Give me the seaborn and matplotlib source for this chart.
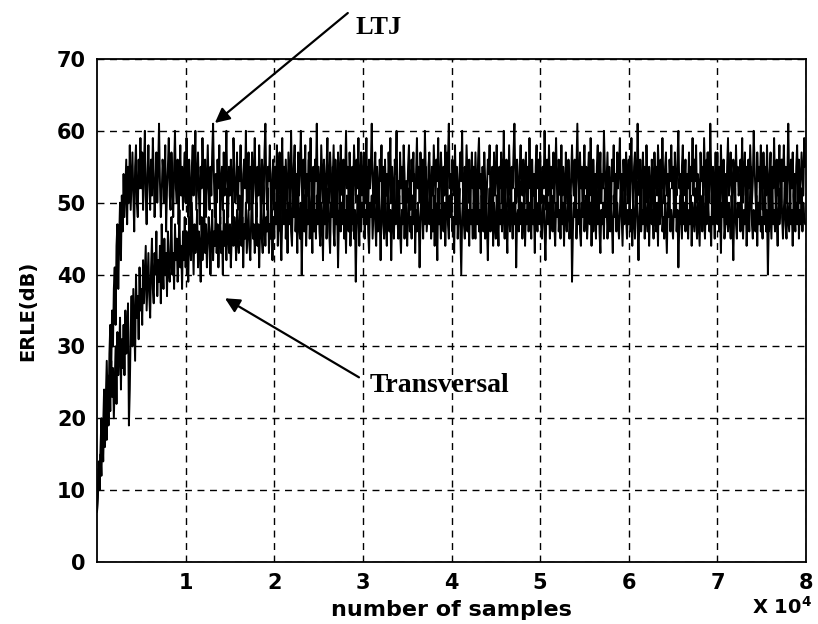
import numpy as np
import pandas as pd
import matplotlib
matplotlib.use("Agg")
import matplotlib.pyplot as plt
import seaborn as sns

# ---------------- data ----------------
sample_step = 100  # samples between plotted points

ltj_erle = [
    7, 10, 14, 11, 16, 20, 15, 19, 24, 18, 23, 28, 22, 20, 29, 33, 26, 35, 30, 38,
    41, 33, 44, 47, 38, 45, 50, 42, 51, 46, 54, 48, 52, 56, 47, 55, 50, 58, 49, 53,
    57, 51, 46, 55, 58, 50, 48, 56, 52, 59,
    52, 57, 49, 55, 60, 51, 47, 54, 58, 53, 49, 56, 51, 59, 54, 48, 52, 57, 50, 55, 61, 53, 48, 51, 56,
    54, 50, 58, 46, 52, 55, 59, 51, 49, 57, 53, 48, 55, 60, 52, 50, 56, 47, 53, 58, 51, 55, 49, 54, 57,
    50, 59, 53, 48, 56, 52, 46, 55, 58, 51, 54, 60, 49, 53, 57, 51, 47, 55, 52, 59, 54, 50, 56, 48, 53,
    58, 52, 49, 55, 51, 57, 61, 53, 48, 54, 50, 56, 52, 58, 47, 53, 55, 49, 57, 51, 54, 60, 52, 48, 55,
    51, 56, 53, 47, 59, 54, 50, 52, 57, 49, 55, 53, 58, 51, 46, 54, 56, 52, 60, 50, 53, 57, 49, 55, 52,
    57, 50, 54, 59, 52, 48, 55, 51, 58, 53, 47, 56, 54, 50, 57, 61, 52, 49, 55, 53, 58, 51, 47, 54, 56,
    49, 55, 52, 58, 50, 54, 57, 46, 53, 59, 51, 55, 49, 56, 52, 48, 57, 54, 51, 60, 53, 50, 55, 58, 52,
    54, 48, 57, 51, 55, 60, 53, 49, 56, 52, 58, 47, 54, 51, 57, 53, 59, 50, 52, 55, 48, 56, 53, 61, 51,
    55, 52, 49, 58, 54, 50, 56, 53, 47, 55, 59, 52, 50, 57, 54, 48, 53, 58, 51, 56, 52, 49, 57, 54, 50,
    58, 53, 51, 56, 48, 54, 60, 52, 55, 49, 57, 53, 46, 55, 51, 58, 54, 50, 56, 52, 59, 48, 53, 57, 51,
    53, 57, 50, 54, 59, 51, 48, 56, 52, 55, 61, 53, 49, 54, 57, 50, 55, 52, 47, 56, 53, 58, 51, 55, 49,
    56, 51, 54, 48, 57, 53, 59, 50, 55, 52, 47, 56, 54, 60, 51, 53, 49, 57, 52, 55, 50, 58, 54, 48, 53,
    50, 55, 58, 52, 49, 56, 53, 57, 51, 46, 54, 59, 52, 55, 50, 57, 53, 48, 56, 51, 60, 54, 52, 49, 55,
    57, 52, 48, 55, 51, 58, 54, 50, 56, 53, 59, 49, 52, 57, 54, 47, 55, 51, 58, 53, 50, 56, 61, 52, 54,
    49, 56, 53, 51, 58, 50, 55, 52, 47, 54, 57, 53, 60, 51, 49, 55, 52, 58, 54, 50, 56, 48, 53, 57, 52,
    55, 50, 57, 53, 49, 56, 59, 52, 54, 48, 55, 51, 57, 53, 46, 52, 56, 54, 58, 50, 53, 55, 49, 57, 51,
    54, 58, 51, 47, 55, 52, 57, 50, 53, 60, 52, 49, 56, 54, 51, 58, 53, 48, 55, 52, 57, 61, 53, 50, 56,
    52, 49, 55, 58, 53, 51, 56, 48, 54, 57, 50, 55, 52, 59, 53, 49, 56, 51, 54, 47, 55, 58, 52, 56, 50,
    57, 53, 50, 55, 52, 60, 54, 49, 56, 51, 58, 53, 48, 55, 52, 57, 50, 54, 59, 52, 49, 56, 53, 51, 58,
    51, 55, 53, 48, 57, 54, 50, 56, 52, 46, 54, 58, 53, 51, 56, 49, 55, 61, 53, 50, 57, 52, 55, 48, 54,
    58, 52, 55, 50, 54, 57, 51, 59, 53, 49, 56, 52, 54, 47, 55, 58, 51, 53, 57, 50, 54, 52, 60, 55, 49,
    53, 57, 50, 55, 52, 48, 56, 53, 58, 51, 54, 49, 57, 52, 55, 59, 50, 54, 48, 56, 53, 51, 57, 54, 50,
    56, 51, 54, 59, 52, 49, 55, 57, 50, 53, 61, 54, 51, 56, 48, 53, 57, 52, 55, 50, 58, 53, 47, 55, 52,
    50, 56, 53, 48, 57, 52, 55, 51, 58, 54, 49, 56, 52, 59, 53, 50, 55, 57, 51, 54, 48, 56, 53, 58, 52,
    55, 49, 57, 53, 51, 56, 60, 52, 54, 47, 55, 58, 51, 53, 56, 50, 54, 52, 57, 49, 55, 53, 59, 51, 56,
    53, 58, 50, 54, 52, 48, 57, 53, 55, 51, 59, 54, 49, 56, 52, 57, 50, 61, 54, 51, 55, 48, 53, 57, 52,
    57, 51, 55, 49, 58, 53, 50, 56, 52, 54, 47, 55, 59, 51, 53, 57, 52, 48, 56, 54, 50, 58, 53, 55, 51,
    52, 56, 53, 59, 50, 54, 57, 51, 55, 49, 56, 52, 58, 54, 50, 53, 60, 55, 51, 48, 57, 53, 55, 52, 58,
    54, 49, 57, 52, 55, 51, 58, 53, 46, 54, 57, 50, 55, 52, 59, 53, 49, 56, 51, 54, 58, 52, 50, 56, 53,
    58, 52, 55, 50, 54, 61, 53, 49, 56, 52, 57, 51, 54, 48, 55, 58, 52, 56, 50, 53, 57, 54, 51, 59, 55,
]

transversal_erle = [
    7, 9, 13, 10, 15, 12, 18, 14, 20, 16,
    22, 17, 24, 19, 26, 21, 28, 23, 27, 20,
    25, 30, 22, 32, 26, 29, 34, 24, 31, 27,
    33, 26, 35, 29, 31, 36, 19, 24, 32, 37,
    30, 38, 33, 28, 40, 34, 37, 31, 41, 35,
    38, 33, 42, 36, 40, 44, 35, 39, 43, 37,
    34, 41, 45, 38, 36, 43, 40, 46, 37, 42,
    39, 44, 36, 47, 41, 38, 45, 40, 43, 37,
    46, 41, 39, 44, 48, 40, 43, 38, 47, 42,
    45, 39, 43, 49, 41, 44, 38, 46, 42, 48,
    41, 46, 43, 39, 48, 44, 42, 50, 45, 40,
    47, 43, 45, 49, 41, 46, 44, 39, 48, 42,
    45, 50, 43, 47, 41, 44, 48, 46, 40, 45,
    49, 42, 46, 44, 51, 43, 47, 41, 45, 48,
    43, 46, 40, 49, 44, 47, 42, 52, 45, 43,
    47, 41, 45, 50, 44, 48, 46, 42, 49, 45,
    43, 51, 46, 44, 48, 41, 47, 45, 50, 43,
    46, 49, 44, 42, 48, 53, 45, 47, 43, 46,
    50, 44, 47, 41, 46, 49, 45, 43, 51, 47,
    44, 48, 46, 52, 43, 47, 45, 49, 42, 48,
    45, 50, 47, 53, 44, 49, 51, 46, 42, 48, 52, 47, 55, 45, 49, 43, 50, 47, 53, 46, 44, 51, 48, 54, 46,
    49, 43, 52, 47, 45, 50, 40, 48, 53, 46, 51, 44, 49, 47, 56, 45, 50, 48, 43, 52, 46, 49, 45, 51, 47,
    53, 46, 44, 50, 48, 42, 51, 47, 54, 45, 49, 52, 46, 43, 50, 48, 55, 46, 44, 51, 47, 49, 41, 48, 52,
    46, 50, 47, 54, 45, 49, 43, 51, 48, 46, 53, 44, 50, 47, 52, 45, 49, 39, 47, 51, 48, 44, 53, 46, 50,
    48, 52, 45, 49, 47, 55, 46, 43, 50, 48, 51, 45, 49, 53, 47, 44, 50, 46, 52, 48, 42, 49, 54, 47, 45,
    51, 47, 44, 50, 53, 46, 49, 42, 48, 52, 45, 50, 47, 56, 48, 45, 51, 46, 43, 49, 47, 53, 45, 50, 48,
    44, 49, 52, 46, 48, 45, 51, 47, 54, 43, 49, 46, 50, 48, 41, 47, 52, 49, 45, 51, 47, 55, 46, 48, 50,
    47, 53, 45, 49, 46, 51, 44, 50, 48, 42, 52, 47, 49, 45, 53, 48, 46, 50, 44, 49, 57, 47, 45, 51, 48,
    50, 46, 48, 43, 51, 47, 54, 45, 49, 52, 46, 40, 48, 51, 47, 45, 50, 53, 46, 49, 44, 52, 47, 49, 45,
    52, 48, 45, 50, 47, 55, 46, 49, 43, 51, 48, 46, 53, 45, 50, 47, 42, 49, 52, 46, 48, 51, 44, 50, 47,
    45, 51, 48, 44, 52, 47, 49, 46, 56, 48, 45, 50, 47, 43, 51, 49, 46, 53, 48, 45, 50, 47, 52, 41, 48,
    49, 46, 53, 47, 50, 45, 48, 52, 44, 49, 47, 54, 46, 50, 48, 45, 51, 47, 49, 43, 52, 48, 46, 50, 47,
    53, 47, 45, 49, 51, 46, 42, 48, 52, 47, 50, 45, 55, 48, 46, 51, 47, 44, 50, 48, 53, 46, 49, 45, 51,
    47, 50, 44, 52, 48, 46, 49, 53, 45, 47, 51, 39, 46, 50, 48, 52, 45, 49, 47, 54, 46, 44, 50, 48, 52,
    46, 49, 51, 45, 48, 55, 47, 50, 44, 49, 46, 52, 48, 45, 51, 47, 53, 46, 43, 49, 47, 50, 45, 52, 48,
    50, 45, 48, 52, 46, 49, 47, 43, 51, 48, 54, 46, 50, 47, 45, 49, 52, 48, 44, 50, 47, 56, 48, 45, 49,
    47, 52, 46, 49, 44, 51, 48, 45, 50, 53, 47, 42, 48, 51, 46, 49, 47, 54, 45, 50, 48, 46, 52, 44, 49,
    51, 47, 49, 45, 53, 48, 46, 50, 44, 52, 47, 49, 55, 46, 48, 45, 51, 47, 43, 50, 48, 52, 46, 49, 47,
    45, 50, 48, 53, 46, 49, 41, 47, 51, 48, 45, 52, 47, 50, 46, 54, 48, 45, 49, 47, 51, 44, 50, 48, 46,
    52, 48, 45, 50, 47, 44, 51, 49, 46, 53, 48, 45, 50, 47, 57, 49, 46, 48, 44, 51, 47, 49, 45, 52, 48,
    47, 51, 46, 49, 43, 50, 48, 52, 45, 47, 54, 49, 46, 50, 48, 45, 51, 47, 42, 49, 52, 47, 45, 50, 48,
    50, 46, 53, 48, 45, 49, 47, 51, 44, 48, 50, 46, 52, 55, 47, 45, 49, 48, 46, 51, 44, 50, 47, 53, 46,
    48, 45, 50, 47, 52, 46, 49, 40, 47, 51, 48, 45, 53, 47, 49, 46, 50, 48, 44, 52, 47, 49, 56, 48, 45,
    49, 52, 47, 45, 50, 48, 46, 53, 47, 49, 44, 51, 48, 46, 50, 47, 54, 45, 49, 47, 52, 46, 50, 48, 47,
]

x_ticks = [10000, 20000, 30000, 40000, 50000, 60000, 70000, 80000]
x_tick_labels = ["1", "2", "3", "4", "5", "6", "7", "8"]
y_ticks = [0, 10, 20, 30, 40, 50, 60, 70]

# ---------------- build table ----------------
df = pd.concat([
    pd.DataFrame({"samples": np.arange(len(ltj_erle)) * sample_step,
                  "erle": ltj_erle, "algo": "LTJ"}),
    pd.DataFrame({"samples": np.arange(len(transversal_erle)) * sample_step,
                  "erle": transversal_erle, "algo": "Transversal"}),
], ignore_index=True)

# ---------------- figure ----------------
sns.set_style("white")
plt.rcParams["font.family"] = ["DejaVu Sans"]
plt.rcParams["text.color"] = "black"
plt.rcParams["axes.labelcolor"] = "black"
plt.rcParams["xtick.color"] = "black"
plt.rcParams["ytick.color"] = "black"

fig = plt.figure(figsize=(8.18, 6.24), dpi=100)
ax = fig.add_axes([97 / 818, 62 / 624, 709 / 818, 503 / 624])

sns.lineplot(data=df, x="samples", y="erle", hue="algo",
             palette={"LTJ": "black", "Transversal": "black"},
             estimator=None, sort=False, linewidth=1.4, legend=False, ax=ax)

ax.set_xlim(0, 80000)
ax.set_ylim(0, 70)
ax.set_xticks(x_ticks)
ax.set_xticklabels(x_tick_labels)
ax.set_yticks(y_ticks)

ax.grid(True, color="black", linestyle=(0, (5, 4)), linewidth=1.0)
ax.set_axisbelow(False)
for s in ax.spines.values():
    s.set_color("black")
    s.set_linewidth(1.3)

ax.tick_params(direction="in", length=4, width=1, colors="black",
               labelsize=15, pad=8)
for lab in ax.get_xticklabels() + ax.get_yticklabels():
    lab.set_fontweight("bold")
    lab.set_color("black")

ax.set_xlabel("number of samples", fontsize=16, fontweight="bold",
              labelpad=5, color="black")
ax.set_ylabel("ERLE(dB)", fontsize=14, fontweight="bold", labelpad=14,
              color="black")

fig.text(812 / 818, 1 - 607 / 624, r"X 10$^{\mathbf{4}}$", fontsize=14,
         fontweight="bold", ha="right", va="center", color="black")

# annotations
serif = ["Liberation Serif", "DejaVu Serif"]
ax.text(29220, 74.45, "LTJ", fontsize=19, fontweight="bold", family=serif,
        ha="left", va="center", clip_on=False, color="black")
ax.annotate("", xy=(13300, 61.1), xytext=(28300, 76.4),
            arrowprops=dict(arrowstyle="-|>", color="black", lw=1.6,
                            mutation_scale=22, shrinkA=0, shrinkB=0),
            annotation_clip=False)

ax.text(30800, 24.5, "Transversal", fontsize=20, fontweight="bold", family=serif,
        ha="left", va="center", color="black")
ax.annotate("", xy=(14440, 36.7), xytext=(29560, 25.7),
            arrowprops=dict(arrowstyle="-|>", color="black", lw=1.6,
                            mutation_scale=22, shrinkA=0, shrinkB=0))

fig.savefig("out.png", dpi=100)
